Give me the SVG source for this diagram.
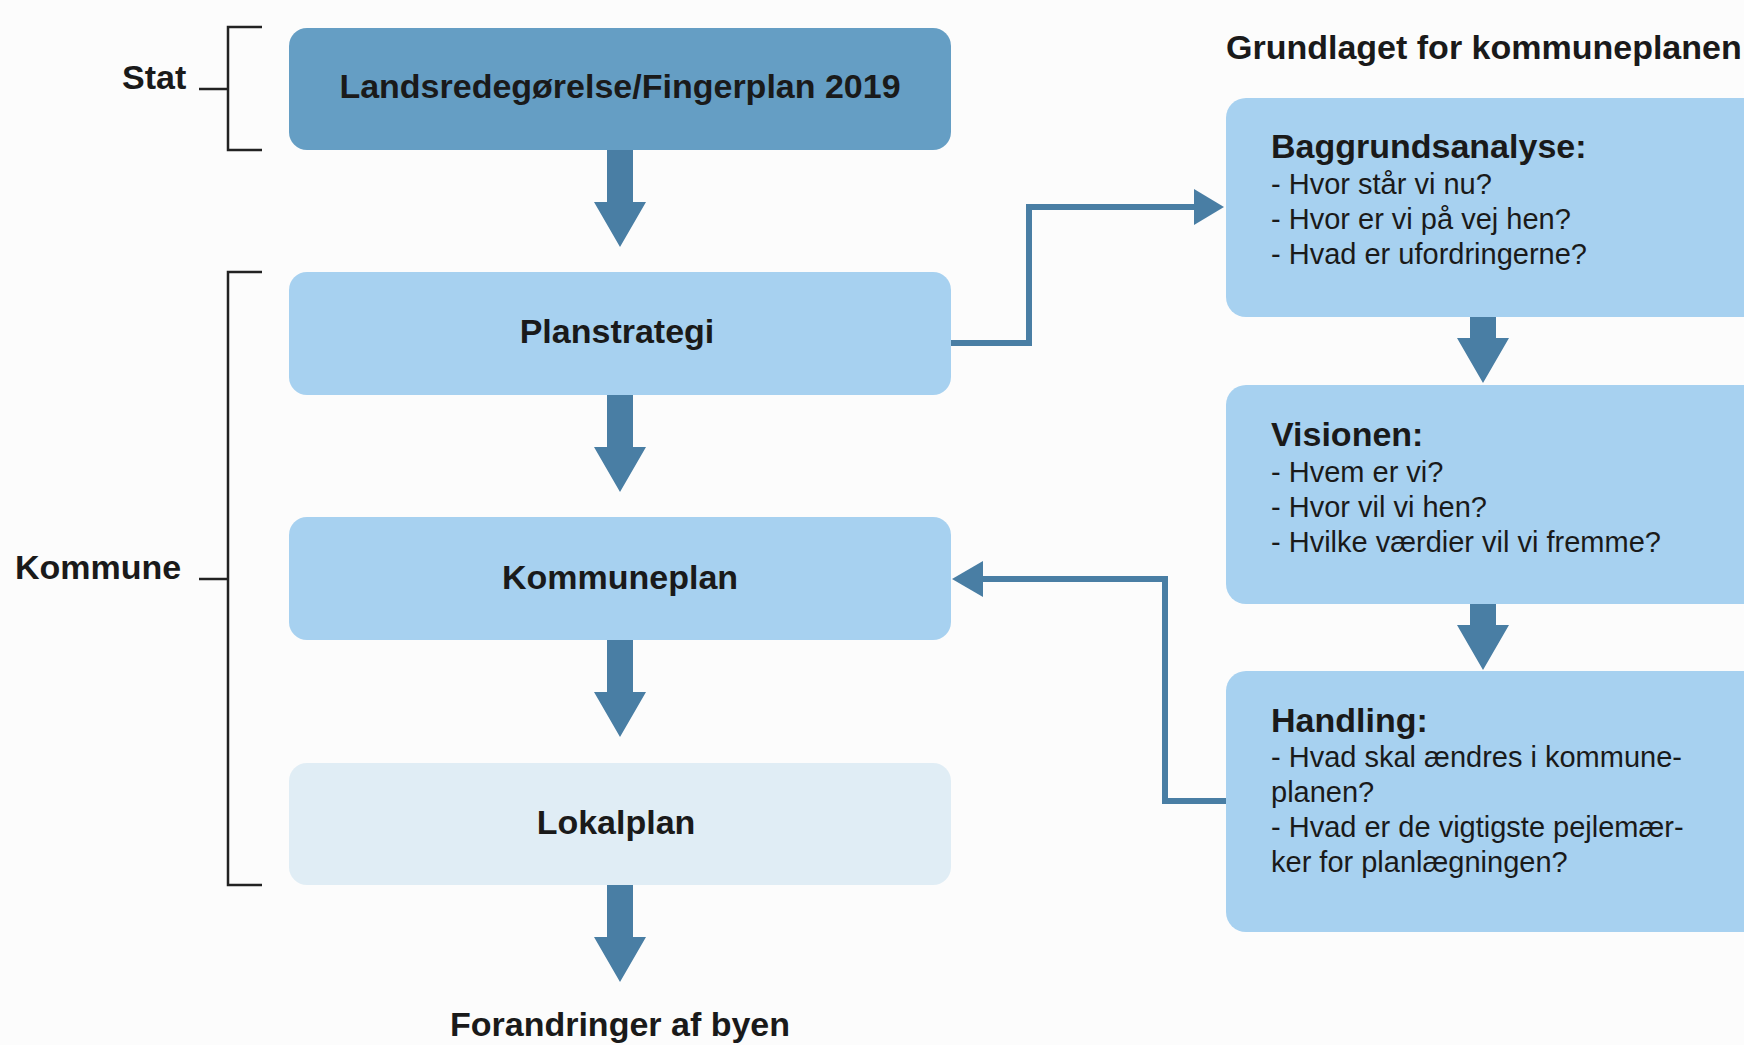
<svg xmlns="http://www.w3.org/2000/svg" width="1744" height="1045" viewBox="0 0 1744 1045">
<style>
.bg{fill:#fcfcfc}
.dark{fill:#659ec4}
.light{fill:#a7d1f0}
.pale{fill:#e0edf5}
.t{font-family:"Liberation Sans",Arial,sans-serif;fill:#1a1a1a}
.b{font-weight:bold;font-size:34px}
.h{font-weight:bold;font-size:34px}
.r{font-size:29px}
.br{fill:none;stroke:#222;stroke-width:2.5}
.con{fill:none;stroke:#497ea4;stroke-width:6}
.ah{fill:#497ea4}
</style>
<defs>
<path id="fatLong" d="M-13,0 V52 H-26 L0,97 L26,52 H13 V0 Z" fill="#497ea4"/>
<path id="fatShort" d="M-13,0 V21 H-26 L0,66 L26,21 H13 V0 Z" fill="#497ea4"/>
</defs>
<rect class="bg" x="0" y="0" width="1744" height="1045"/>

<g id="brackets">
<path class="br" d="M262,27 H228 V150 H262 M199,89 H228"/>
<path class="br" d="M262,272 H228 V885 H262 M199,579 H228"/>
<text class="t b" x="122" y="89">Stat</text>
<text class="t b" x="15" y="579">Kommune</text>
</g>

<g id="node-landsredegorelse">
<rect class="dark" x="289" y="28" width="662" height="122" rx="18"/>
<text class="t b" x="620" y="98" text-anchor="middle">Landsredegørelse/Fingerplan 2019</text>
</g>
<g id="node-planstrategi">
<rect class="light" x="289" y="272" width="662" height="123" rx="18"/>
<text class="t b" x="617" y="343" text-anchor="middle">Planstrategi</text>
</g>
<g id="node-kommuneplan">
<rect class="light" x="289" y="517" width="662" height="123" rx="18"/>
<text class="t b" x="620" y="589" text-anchor="middle">Kommuneplan</text>
</g>
<g id="node-lokalplan">
<rect class="pale" x="289" y="763" width="662" height="122" rx="18"/>
<text class="t b" x="616" y="834" text-anchor="middle">Lokalplan</text>
</g>
<g id="node-forandringer">
<text class="t b" x="620" y="1036" text-anchor="middle">Forandringer af byen</text>
</g>

<g id="node-grundlaget">
<text class="t b" x="1226" y="59">Grundlaget for kommuneplanen</text>
</g>
<g id="node-baggrund">
<rect class="light" x="1226" y="98" width="540" height="219" rx="20"/>
<text class="t h" x="1271" y="158">Baggrundsanalyse:</text>
<text class="t r" x="1271" y="194">- Hvor står vi nu?</text>
<text class="t r" x="1271" y="229">- Hvor er vi på vej hen?</text>
<text class="t r" x="1271" y="264">- Hvad er ufordringerne?</text>
</g>
<g id="node-visionen">
<rect class="light" x="1226" y="385" width="540" height="219" rx="20"/>
<text class="t h" x="1271" y="446">Visionen:</text>
<text class="t r" x="1271" y="482">- Hvem er vi?</text>
<text class="t r" x="1271" y="517">- Hvor vil vi hen?</text>
<text class="t r" x="1271" y="552">- Hvilke værdier vil vi fremme?</text>
</g>
<g id="node-handling">
<rect class="light" x="1226" y="671" width="540" height="261" rx="20"/>
<text class="t h" x="1271" y="732">Handling:</text>
<text class="t r" x="1271" y="767">- Hvad skal ændres i kommune-</text>
<text class="t r" x="1271" y="802">planen?</text>
<text class="t r" x="1271" y="837">- Hvad er de vigtigste pejlemær-</text>
<text class="t r" x="1271" y="872">ker for planlægningen?</text>
</g>

<g id="connectors">
<use href="#fatLong" x="620" y="150"/>
<use href="#fatLong" x="620" y="395"/>
<use href="#fatLong" x="620" y="640"/>
<use href="#fatLong" x="620" y="885"/>
<use href="#fatShort" x="1483" y="317"/>
<use href="#fatShort" x="1483" y="604"/>
<path class="con" d="M951,343 H1029 V207 H1196"/>
<polygon class="ah" points="1194,189 1224,207 1194,225"/>
<path class="con" d="M1226,801 H1165 V579 H980"/>
<polygon class="ah" points="983,561 952,579 983,597"/>
</g>
</svg>
